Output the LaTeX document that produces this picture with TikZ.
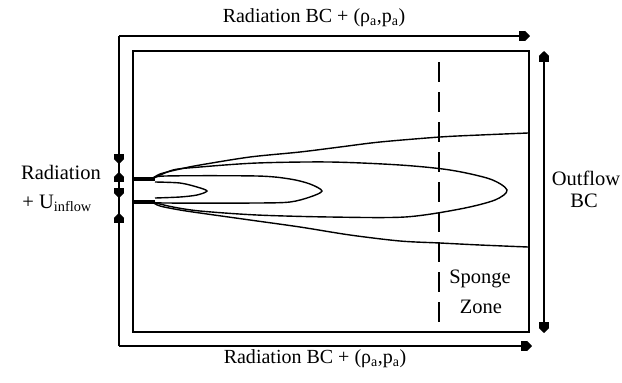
\documentclass[tikz,border=0pt]{standalone}
\usepackage{fontspec}
\setmainfont{Liberation Serif}
\usetikzlibrary{arrows.meta}

\tikzset{
  lbl/.style={font=\fontsize{20.5bp}{24bp}\selectfont, inner sep=0pt},
  bclbl/.style={font=\fontsize{20bp}{24bp}\selectfont, inner sep=0pt},
  bcline/.style={line width=1.8bp},
  bctip/.style={-{Rectangle[length=6bp,width=10bp]Triangle[length=5bp,width=10bp]}},
  bcboth/.style={{Triangle[length=5bp,width=10bp]Rectangle[length=6bp,width=10bp]}-{Rectangle[length=6bp,width=10bp]Triangle[length=5bp,width=10bp]}},
  marktip/.style={-{Rectangle[length=5bp,width=10bp]Triangle[length=5bp,width=10bp]}},
  contour/.style={line width=1.4bp},
  inflow/.style={line width=3.5bp}
}

\begin{document}
\begin{tikzpicture}[x=1bp,y=-1bp]
  \useasboundingbox (0,0) rectangle (622,382);

  % outer radiation boundary
  \coordinate (topend) at (530,36);
  \coordinate (topleft) at (119,36);
  \coordinate (botleft) at (119,346);
  \coordinate (botend) at (532,346);
  \draw[bcline] (topleft) -- (botleft);
  \draw[bcline,bctip] (topleft) -- (topend);
  \draw[bcline,bctip] (botleft) -- (botend);

  % inflow markers on the left boundary
  \coordinate (m1a) at (119,150); \coordinate (m1b) at (119,164);
  \coordinate (m2a) at (119,186); \coordinate (m2b) at (119,172);
  \coordinate (m3a) at (119,184); \coordinate (m3b) at (119,198);
  \coordinate (m4a) at (119,227); \coordinate (m4b) at (119,213);
  \draw[bcline,marktip] (m1a) -- (m1b);
  \draw[bcline,marktip] (m2a) -- (m2b);
  \draw[bcline,marktip] (m3a) -- (m3b);
  \draw[bcline,marktip] (m4a) -- (m4b);

  % computational domain
  \draw[bcline] (133,51) rectangle (529,332);

  % outflow arrow
  \coordinate (outtop) at (544,51);
  \coordinate (outbot) at (544,333);
  \draw[bcline,bcboth] (outtop) -- (outbot);

  % sponge zone
  \coordinate (spgtop) at (439,62);
  \coordinate (spgbot) at (439,332);
  \draw[bcline,dash pattern=on 20bp off 10bp] (spgtop) -- (spgbot);

  % jet inflow
  \draw[inflow] (133,179) -- (155,179);
  \draw[inflow] (133,202) -- (155,202);

  % contours
  \draw[contour] plot[smooth] coordinates {(152,179) (160,174) (180,169) (200,165)
    (250,157) (300,152) (340,147) (380,142) (440,137) (480,135) (528,133)};
  \draw[contour] plot[smooth] coordinates {(152,202) (160,206) (180,210) (200,213)
    (250,220) (300,227) (350,235) (400,241) (440,243) (480,245) (528,247)};
  \draw[contour] plot[smooth] coordinates {(152,179) (173,170) (200,167) (257,163)
    (330,162) (400,165) (450,170) (490,179) (507,190) (495,200) (460,209)
    (405,217) (330,217) (257,215) (200,211) (173,207) (152,202)};
  \draw[contour] plot[smooth] coordinates {(152,179) (165,176) (257,176) (290,179)
    (310,184) (322,191) (310,197) (290,202) (257,203) (165,203) (152,202)};
  \draw[contour] plot[smooth] coordinates {(155,182) (180,183) (197,187) (207,191)
    (197,195) (180,197) (155,198)};

  % labels
  \node[bclbl,anchor=base] (toplbl) at (314,22) {Radiation BC + (ρ\textsubscript{a},p\textsubscript{a})};
  \node[bclbl,anchor=base] (botlbl) at (315,363) {Radiation BC + (ρ\textsubscript{a},p\textsubscript{a})};
  \node[lbl,anchor=base east] (radlbl) at (101,179) {Radiation};
  \node[lbl,anchor=base east] (uinlbl) at (92,208) {+ U\textsubscript{inflow}};
  \node[lbl,anchor=base] (outlbl) at (586,185) {Outflow};
  \node[lbl,anchor=base] (bclbl) at (584,207) {BC};
  \node[lbl,anchor=base] (spglbl) at (480,283) {Sponge};
  \node[lbl,anchor=base] (zonelbl) at (481,313) {Zone};
\end{tikzpicture}
\end{document}
